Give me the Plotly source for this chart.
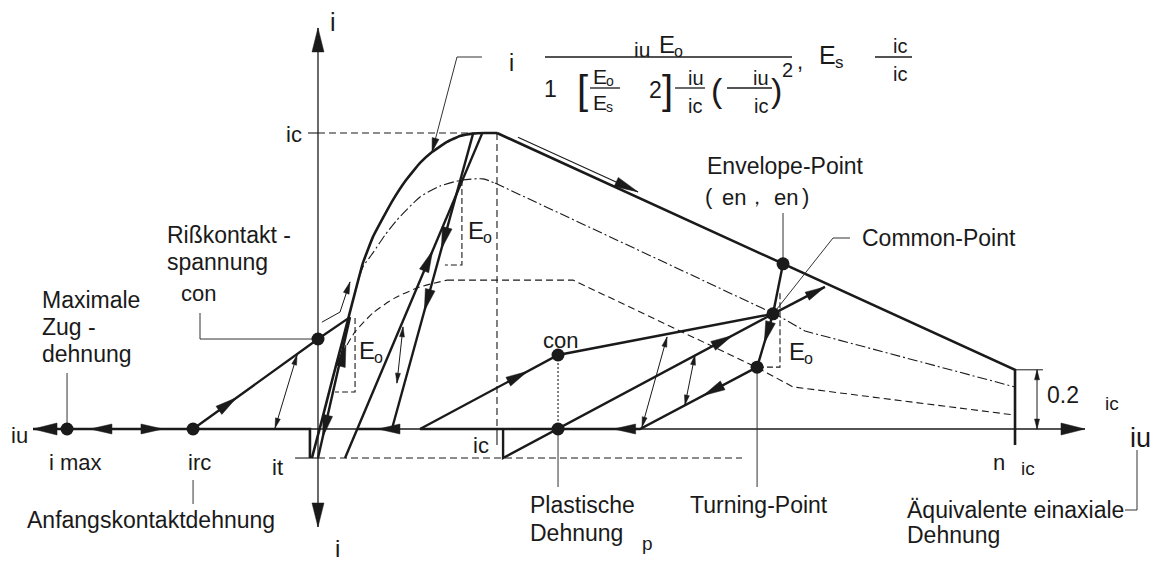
import math
import plotly.graph_objects as go

# ------------------------------------------------------------------
# Normalised coordinates: strain / eps_c (compression to the right),
# stress / sigma_c (compression upwards)
# ------------------------------------------------------------------
EPS_MAX = -1.402     # maximum tensile strain
EPS_RC = -0.698      # initial crack-contact strain
SIG_T = -0.098       # stress level sigma_it
EPS_N = 3.894        # n * eps_c
SIG_RES = 0.2        # residual stress 0.2 sigma_c

# compression envelope, ascending branch
env_up_eps = [-0.034, 0.022, 0.078, 0.134, 0.196, 0.251, 0.307, 0.363, 0.419, 0.492,
              0.570, 0.637, 0.721, 0.793, 0.866, 0.930, 1.0]
env_up_sig = [-0.098, 0.030, 0.162, 0.291, 0.436, 0.561, 0.649, 0.713, 0.774, 0.841,
              0.899, 0.936, 0.970, 0.990, 0.998, 1.0, 1.0]
# softening branch down to the residual level
env_dn_eps = [1.0, EPS_N, EPS_N]
env_dn_sig = [1.0, SIG_RES, -0.054]

# reduced envelope (dash-dot)
mid_up_eps = [0.207, 0.251, 0.307, 0.374, 0.441, 0.570, 0.682, 0.804, 0.922, 0.989]
mid_up_sig = [0.463, 0.547, 0.595, 0.655, 0.706, 0.784, 0.821, 0.841, 0.845, 0.831]
mid_dn_eps = [0.989, 2.564, 2.721, EPS_N]
mid_dn_sig = [0.831, 0.385, 0.331, 0.142]

# lower reduced envelope (dashed)
low_up_eps = [0.162, 0.207, 0.307, 0.430, 0.570, 0.721]
low_up_sig = [0.284, 0.328, 0.392, 0.443, 0.480, 0.503]
low_dn_eps = [0.721, 1.425, 2.458, 2.654, EPS_N]
low_dn_sig = [0.503, 0.503, 0.206, 0.142, 0.047]

# characteristic points
SIG_CON1 = 0.304
EPS_P, SIG_CON2 = 1.341, 0.250
common_pt = (2.542, 0.389)
envelope_pt = (2.598, 0.558)
turning_pt = (2.453, 0.209)

# loading paths
contact_eps = [EPS_RC, 0.0, 0.179]
contact_sig = [0.0, SIG_CON1, 0.378]
unl1_eps = [0.179, 0.0]
unl1_sig = [0.378, SIG_T]
rel1_eps = [0.151, 0.916]
rel1_sig = [SIG_T, 0.997]
unl2_eps = [0.866, 0.413]
unl2_sig = [0.997, 0.0]
gap1_eps = [0.413, 0.218]
rel2_eps = [0.570, EPS_P, common_pt[0]]
rel2_sig = [0.0, SIG_CON2, common_pt[1]]
plast_eps = [1.034, 1.034, common_pt[0]]
plast_sig = [0.0, SIG_T, common_pt[1]]
cyc_eps = [envelope_pt[0], common_pt[0], turning_pt[0], 1.799, 0.570]
cyc_sig = [envelope_pt[1], common_pt[1], turning_pt[1], 0.0, 0.0]
out_eps = [common_pt[0], 2.832]
out_sig = [common_pt[1], 0.480]

# ------------------------------------------------------------------
W, H = 1157, 561
X_RANGE = (-1.7765, 4.6872)
Y_RANGE = (-0.4459, 1.4493)
SX = W / (X_RANGE[1] - X_RANGE[0])
SY = H / (Y_RANGE[1] - Y_RANGE[0])


def gx(p):
    return X_RANGE[0] + p / SX


def gy(p):
    return Y_RANGE[1] - p / SY


INK = "#1a1a1a"
LEAD = "#333333"
FONT = "Liberation Sans, Arial, sans-serif"
fig = go.Figure()


def line(xs, ys, width=2.6, dash=None, color=INK, shape="linear", smoothing=0.6):
    ln = dict(color=color, width=width, shape=shape)
    if dash:
        ln["dash"] = dash
    if shape == "spline":
        ln["smoothing"] = smoothing
    fig.add_trace(go.Scatter(x=xs, y=ys, mode="lines", line=ln,
                             hoverinfo="skip", showlegend=False))


hx, hy = [], []


def head(tip, frm, L=20, Wd=9):
    dx = (tip[0] - frm[0]) * SX
    dy = (tip[1] - frm[1]) * SY
    n = math.hypot(dx, dy)
    ux, uy = dx / n, dy / n
    bx, by = -ux * L, -uy * L
    nx, ny = -uy, ux
    pts = [(0, 0), (bx + nx * Wd / 2, by + ny * Wd / 2),
           (bx - nx * Wd / 2, by - ny * Wd / 2), (0, 0)]
    for a, b in pts:
        hx.append(tip[0] + a / SX)
        hy.append(tip[1] + b / SY)
    hx.append(None)
    hy.append(None)


def head_on(xs, ys, t, L=20, Wd=9):
    x0, y0, x1, y1 = xs[0], ys[0], xs[1], ys[1]
    tip = (x0 + t * (x1 - x0), y0 + t * (y1 - y0))
    head(tip, (x0, y0), L, Wd)


def dbl(a, b):
    line([a[0], b[0]], [a[1], b[1]], width=1.0)
    head(a, b, 10, 5)
    head(b, a, 10, 5)


# ---- axes
line([-1.592, 4.285], [0, 0], width=1.3)
line([0, 0], [-0.331, 1.355], width=1.3)
head((-1.592, 0), (-1.0, 0), 24, 12)
head((4.285, 0), (4.0, 0), 24, 12)
head((0, 1.355), (0, 1.0), 24, 12)
head((0, -0.331), (0, 0.0), 24, 12)

# ---- reference lines
line([0, 1.0], [1.0, 1.0], width=1.1, dash="7px,4px")
line([1.0, 1.0], [1.0, 0.0], width=1.1, dash="7px,4px")
line([1.0, 1.0], [0.0, -0.054], width=1.1)
line([-0.056, 0], [1.0, 1.0], width=1.1)
line([-0.128, 0], [SIG_T, SIG_T], width=1.1)
line([0, 2.369], [SIG_T, SIG_T], width=1.1, dash="7px,4px")
line([EPS_P, EPS_P], [0.0, SIG_CON2], width=1.1, dash="2px,2px")

# ---- envelopes
line(env_up_eps, env_up_sig, width=2.6, shape="spline", smoothing=0.3)
line(env_dn_eps, env_dn_sig, width=2.6)
line(mid_up_eps, mid_up_sig, width=1.1, dash="10px,3px,2px,3px", shape="spline")
line(mid_dn_eps, mid_dn_sig, width=1.1, dash="10px,3px,2px,3px")
line(low_up_eps, low_up_sig, width=1.1, dash="7px,4px", shape="spline")
line(low_dn_eps, low_dn_sig, width=1.1, dash="7px,4px")
line([EPS_N, 4.050], [SIG_RES, SIG_RES], width=1.0)

# ---- loading paths
line([-1.592, -0.045, -0.045], [0, 0, SIG_T], width=2.6)
line(contact_eps, contact_sig, width=2.4)
line(unl1_eps, unl1_sig, width=2.4)
line(rel1_eps, rel1_sig, width=2.4)
line(unl2_eps, unl2_sig, width=2.4)
line(gap1_eps, [0, 0], width=2.4)
line(rel2_eps, rel2_sig, width=2.4)
line(plast_eps, plast_sig, width=2.4)
line(cyc_eps, cyc_sig, width=2.4)
line(out_eps, out_sig, width=2.4)

# ---- direction arrows
head((-1.274, 0), (-1.0, 0), 22, 10)
head((-0.866, 0), (-1.2, 0), 22, 10)
head_on(contact_eps, contact_sig, 0.35, 22, 10)
head_on(unl1_eps, unl1_sig, 0.85, 22, 10)
head((0.156, 0.284), (0.106, 0.168), 22, 10)
head_on(rel1_eps, rel1_sig, 0.64, 22, 10)
head_on(unl2_eps, unl2_sig, 0.39, 22, 10)
head_on(unl2_eps, unl2_sig, 0.60, 22, 10)
head_on(gap1_eps, [0, 0], 0.40, 22, 10)
head_on(rel2_eps, rel2_sig, 0.78, 22, 10)
head_on([plast_eps[1], plast_eps[2]], [plast_sig[1], plast_sig[2]], 0.85, 22, 10)
head_on([common_pt[0], turning_pt[0]], [common_pt[1], turning_pt[1]], 0.55, 22, 10)
head_on([turning_pt[0], 1.799], [turning_pt[1], 0.0], 0.46, 22, 10)
head_on([1.799, 0.570], [0, 0], 0.12, 22, 10)
head((out_eps[1], out_sig[1]), (common_pt[0], common_pt[1]), 20, 9)

# softening direction marker
line([1.117, 1.788], [0.986, 0.801], width=1.1)
head((1.788, 0.801), (1.117, 0.986), 24, 10)

# thin path guiding onto the envelope
line([0.022, 0.123, 0.179], [0.361, 0.395, 0.497], width=1.0)
head((0.179, 0.497), (0.123, 0.395), 12, 6)

# reversal arrows
dbl((-0.240, 0.003), (-0.117, 0.250))
dbl((0.475, 0.345), (0.441, 0.155))
dbl((1.950, 0.311), (1.810, 0.007))
dbl((2.106, 0.250), (2.050, 0.081))
dbl((4.017, SIG_RES), (4.017, 0.0))

# stiffness triangles E_o
line([0.207, 0.207, 0.095], [0.375, 0.125, 0.125], width=1.1, dash="6px,3px")
line([0.804, 0.804, 0.709], [0.841, 0.554, 0.554], width=1.1, dash="6px,3px")
line([2.581, 2.581, turning_pt[0]], [0.459, turning_pt[1], turning_pt[1]], width=1.1, dash="6px,3px")

# ---- leaders
line([EPS_MAX, EPS_MAX], [0, gy(373)], width=1.0, color=LEAD)
line([0, gx(200), gx(200)], [SIG_CON1, SIG_CON1, gy(313)], width=1.0, color=LEAD)
line([EPS_RC, EPS_RC], [gy(480), gy(504)], width=1.0, color=LEAD)
line([EPS_P, EPS_P], [0, gy(487)], width=1.0, color=LEAD)
line([turning_pt[0], turning_pt[0]], [turning_pt[1], gy(487)], width=1.0, color=LEAD)
line([envelope_pt[0], envelope_pt[0]], [envelope_pt[1], gy(213)], width=1.0, color=LEAD)
line([common_pt[0], gx(833), gx(850)], [common_pt[1], gy(238), gy(238)], width=1.0, color=LEAD)
line([gx(1137), gx(1137), gx(1125)], [gy(450), gy(510), gy(510)], width=1.0, color=LEAD)
line([gx(482), gx(457), gx(432)], [gy(57), gy(57), gy(152)], width=1.0, color=LEAD)
head((gx(432), gy(152)), (gx(457), gy(57)), 14, 7)

# arrowheads
fig.add_trace(go.Scatter(x=hx, y=hy, mode="lines", fill="toself", fillcolor=INK,
                         line=dict(color=INK, width=0.5), hoverinfo="skip", showlegend=False))

# points
pts_x = [EPS_MAX, EPS_RC, 0.0, EPS_P, EPS_P, common_pt[0], envelope_pt[0], turning_pt[0]]
pts_y = [0.0, 0.0, SIG_CON1, SIG_CON2, 0.0, common_pt[1], envelope_pt[1], turning_pt[1]]
fig.add_trace(go.Scatter(x=pts_x, y=pts_y, mode="markers",
                         marker=dict(size=13, color=INK), hoverinfo="skip", showlegend=False))


# ---- text
def text(s, px, py, size=23, anchor="center"):
    fig.add_annotation(x=gx(px), y=gy(py), text=s, showarrow=False,
                       xanchor=anchor, yanchor="middle",
                       font=dict(family=FONT, size=size, color=INK))


def modulus(sub, px, py, size=23, drop=0.30):
    # "E" with a lowered small index letter
    text("E", px, py, size, anchor="left")
    text(sub, px + 0.62 * size, py + drop * size, round(size * 0.68), anchor="left")


def bar(x0, x1, py):
    line([gx(x0), gx(x1)], [gy(py), gy(py)], width=1.3)


text("i", 333, 22, 25)
text("i", 337, 548, 24)
text("iu", 19, 435, 22)
text("ic", 294, 134, 22)
text("Rißkontakt -", 165, 235, anchor="left")
text("spannung", 165, 262, anchor="left")
text("con", 198, 293, 22)
text("Maximale", 40, 300, anchor="left")
text("Zug -", 40, 327, anchor="left")
text("dehnung", 40, 354, anchor="left")
text("i max", 75, 462, 22)
text("irc", 199, 462, 22)
text("it", 277, 467, 22)
text("Anfangskontaktdehnung", 25, 520, anchor="left")
modulus("o", 357, 350, 24)
modulus("o", 466, 230, 24)
modulus("o", 787, 351, 24)
text("ic", 481, 445, 22)
text("con", 560, 340, 22)
text("Plastische", 528, 505, anchor="left")
text("Dehnung", 528, 533, anchor="left")
text("p", 647, 543, 19)
text("Turning-Point", 688, 505, anchor="left")
text("Äquivalente einaxiale", 905, 510, anchor="left")
text("Dehnung", 905, 535, anchor="left")
text("n", 999, 462, 22)
text("ic", 1028, 468, 19)
text("0.2", 1045, 395, anchor="left")
text("ic", 1112, 403, 19)
text("iu", 1140, 438, 27)
text("Envelope-Point", 705, 166, anchor="left")
text("(", 709, 196, 22)
text("en", 734, 197, 22)
text("，", 757, 197, 20)
text("en", 786, 197, 22)
text(")", 805, 196, 22)
text("Common-Point", 860, 238, anchor="left")

# formula
text("i", 511, 63, 23)
bar(545, 792, 57)
text("iu", 642, 49, 21)
modulus("o", 657, 44, 24)
text("1", 550, 89, 23)
text("[", 582, 90, 40)
modulus("o", 591, 76, 21, drop=0.24)
bar(590, 620, 88)
modulus("s", 591, 102, 21, drop=0.24)
text("2", 655, 90, 23)
text("]", 667, 90, 40)
bar(675, 705, 88)
text("iu", 696, 78, 20)
text("ic", 695, 106, 20)
text("(", 717, 90, 34)
bar(727, 772, 88)
text("iu", 761, 78, 20)
text("ic", 761, 106, 20)
text(")", 776, 90, 34)
text("2", 787, 70, 20)
text(",", 800, 61, 22)
modulus("s", 817, 55, 25)
bar(875, 912, 57)
text("ic", 900, 46, 20)
text("ic", 900, 74, 20)

fig.update_layout(
    width=W, height=H,
    margin=dict(l=0, r=0, t=0, b=0),
    paper_bgcolor="white", plot_bgcolor="white",
    xaxis=dict(range=list(X_RANGE), visible=False, fixedrange=True),
    yaxis=dict(range=list(Y_RANGE), visible=False, fixedrange=True),
    showlegend=False,
)

fig.write_html("out.html", config={"displayModeBar": False})
